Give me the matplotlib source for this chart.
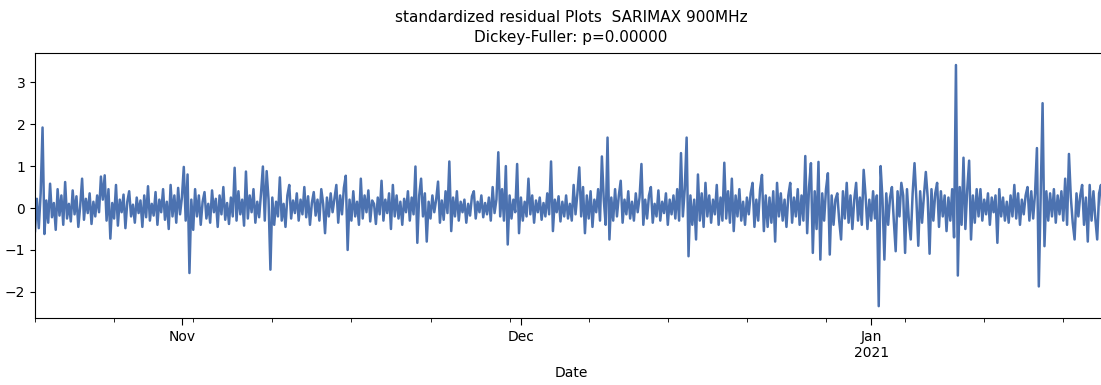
import matplotlib
matplotlib.use("Agg")
import matplotlib.pyplot as plt
import matplotlib.dates as mdates
from matplotlib.ticker import FuncFormatter
import numpy as np
import pandas as pd

# 4-hourly standardized residuals (6 values per day)
start = "2020-10-19 00:00"
step = "4h"
resid = [
    -0.55, 0.22, -0.48, 0.35, 1.92, -0.62,
    0.18, -0.35, 0.58, -0.22, 0.12, -0.52,
    0.45, -0.18, 0.3, -0.4, 0.62, -0.25,
    0.1, -0.32, 0.42, -0.15, 0.28, -0.45,
    0.05, 0.7, -0.28, 0.22, -0.12, 0.35,
    -0.38, 0.15, -0.2, 0.3, -0.1, 0.75,
    0.2, 0.78, -0.3, 0.45, -0.73, 0.12,
    -0.25, 0.55, -0.42, 0.2, -0.1, 0.32,
    -0.48, 0.15, 0.4, -0.2, 0.08, -0.35,
    0.25, -0.12, 0.18, -0.45, 0.3, -0.22,
    0.52, -0.3, 0.1, -0.18, 0.38, -0.4,
    0.2, -0.1, 0.45, -0.28, 0.15, -0.5,
    0.55, -0.2, 0.3, -0.35, 0.48, -0.15,
    0.25, 0.98, -0.3, 0.8, -1.55, 0.2,
    -0.52, 0.45, -0.2, 0.3, -0.4, 0.15,
    0.38, -0.25, 0.1, -0.35, 0.42, -0.1,
    0.22, -0.45, 0.3, -0.15, 0.5, -0.28,
    0.12, -0.38, 0.25, -0.2, 0.96, -0.3,
    0.4, -0.15, 0.2, -0.42, 0.87, -0.25,
    0.3, -0.1, 0.45, -0.35, 0.15, -0.22,
    0.35, 0.99, -0.3, 0.88, 0.2, -1.47,
    0.25, -0.4, 0.15, -0.2, 0.73, -0.3,
    0.1, -0.45, 0.3, 0.55, -0.25, 0.18,
    -0.12, 0.35, -0.3, 0.2, -0.15, 0.5,
    -0.22, 0.28, -0.4, 0.12, 0.38, -0.18,
    0.2, -0.3, 0.45, 0.1, -0.6, 0.25,
    -0.2, 0.35, -0.1, 0.22, 0.55, -0.35,
    0.3, -0.15, 0.48, 0.77, -1.0, 0.2,
    -0.3, 0.4, -0.2, 0.15, -0.4, 0.7,
    -0.25, 0.3, -0.1, 0.42, -0.32, 0.18,
    0.1, -0.38, 0.25, -0.15, 0.65, -0.3,
    0.2, -0.12, 0.35, -0.5, 0.55, -0.2,
    0.3, -0.25, 0.15, -0.4, 0.22, -0.1,
    0.4, -0.3, 0.25, -0.15, 0.99, -0.83,
    0.3, 0.7, -0.2, 0.35, -0.8, 0.15,
    -0.25, 0.3, -0.1, 0.2, 0.63, -0.35,
    0.18, -0.28, 0.4, -0.12, 1.11, -0.55,
    0.25, -0.2, 0.4, -0.3, 0.15, -0.1,
    0.2, -0.35, 0.1, -0.18, 0.28, 0.4,
    -0.25, 0.15, -0.1, 0.3, -0.22, 0.12,
    -0.15, 0.25, -0.3, 0.5, -0.12, 0.2,
    1.33, -0.2, 0.45, -0.3, 1.0, -0.87,
    0.3, -0.25, 0.2, -0.1, 1.05, -0.6,
    0.25, -0.3, 0.15, -0.2, 0.7, -0.15,
    0.3, -0.35, 0.18, -0.1, 0.25, -0.28,
    0.12, -0.2, 0.35, -0.15, 1.11, -0.55,
    0.2, -0.1, 0.28, -0.32, 0.15, -0.2,
    0.3, -0.25, 0.1, -0.3, 0.55, -0.15,
    0.35, 0.97, -0.2, 0.5, -0.6, 0.3,
    -0.25, 0.4, -0.45, 0.2, -0.1, 0.45,
    -0.3, 1.23, 0.2, -0.4, 1.68, -0.75,
    0.25, -0.3, 0.45, -0.2, 0.3, 0.65,
    -0.35, 0.2, -0.15, 0.4, -0.25, 0.15,
    -0.3, 0.35, -0.1, 0.25, 1.05, -0.4,
    0.2, -0.25, 0.3, 0.5, -0.35, 0.1,
    -0.2, 0.42, -0.3, 0.15, -0.12, 0.35,
    -0.4, 0.2, -0.15, 0.3, -0.25, 0.45,
    -0.3, 1.31, -0.2, 0.45, 1.68, -1.15,
    0.3, -0.4, 0.2, -0.75, 0.8, -0.3,
    0.35, -0.45, 0.6, -0.2, 0.3, -0.35,
    0.2, -0.15, 0.55, -0.4, 0.25, -0.3,
    1.08, -0.25, 0.4, -0.35, 0.7, -0.55,
    0.3, -0.2, 0.45, -0.3, 0.15, -0.4,
    0.25, -0.15, 0.35, 0.6, -0.45, 0.2,
    -0.3, 0.45, 0.79, -0.55, 0.3, -0.45,
    0.25, -0.35, 0.4, -0.8, 0.6, -0.2,
    0.35, -0.3, 0.2, -0.45, 0.3, 0.6,
    -0.35, 0.25, -0.2, 0.45, -0.4, 0.3,
    -0.3, 1.24, -0.6, 0.5, 1.07, -1.07,
    0.4, -0.5, 1.1, -1.23, 0.35, -0.3,
    0.45, 0.83, -1.11, 0.3, -0.4, 0.2,
    0.35, -0.3, -0.75, 0.4, -0.25, 0.6,
    -0.35, 0.3, -0.5, 0.2, 0.6, -0.3,
    0.25, -0.4, 0.91, 0.3, -0.5, 0.2,
    -0.3, 0.4, -0.25, 0.3, -2.34, 1.0,
    0.2, -1.23, 0.35, -0.4, 0.25, 0.5,
    -0.3, -1.03, 0.4, -0.2, 0.6, 0.3,
    -1.07, 0.45, -0.3, -0.75, 0.35, 1.07,
    0.2, -0.9, 0.4, -0.35, 0.3, 0.86,
    0.25, -1.09, 0.45, -0.3, 0.35, 0.6,
    -0.45, 0.4, -0.2, 0.3, -0.55, 0.25,
    -0.3, 0.45, -0.7, 3.41, -1.61, 0.5,
    -0.4, 1.2, -0.5, 0.45, 1.13, -0.75,
    0.3, -0.35, 0.45, -0.2, 0.45, -0.3,
    0.2, -0.15, 0.35, -0.4, 0.25, -0.1,
    0.3, -0.83, 0.45, -0.2, 0.25, -0.3,
    0.15, -0.35, 0.3, -0.2, 0.55, -0.25,
    0.35, -0.4, 0.2, -0.15, 0.3, 0.5,
    -0.3, 0.4, -0.25, 0.35, 1.43, -1.87,
    0.3, 2.5, -0.91, 0.4, -0.3, 0.35,
    -0.2, 0.45, -0.35, 0.3, -0.15, 0.4,
    -0.3, 0.7, -0.4, 1.29, 0.25, -0.35,
    -0.75, 0.35, -0.2, 0.3, 0.55, -0.4,
    0.25, -0.8, 0.55, -0.3, 0.4, -0.25,
    -0.75, 0.35, 0.55, -0.3, 0.3, -0.2,
]

dates = pd.date_range(start, periods=len(resid), freq=step)

fig = plt.figure(figsize=(11.01, 3.85), dpi=100)
ax = fig.add_axes([0.0318, 0.1732, 0.9733, 0.6884])
ax.plot(dates, resid, color='#4c72b0', lw=1.8)

ax.set_xlim(dates[0], dates[-1])
ax.set_ylim(-2.63, 3.69)
ax.set_yticks([-2, -1, 0, 1, 2, 3])

def month_fmt(x, pos=None):
    d = mdates.num2date(x)
    if d.month == 1:
        return d.strftime('%b\n%Y')
    return d.strftime('%b')

ax.xaxis.set_major_locator(mdates.MonthLocator())
ax.xaxis.set_major_formatter(FuncFormatter(month_fmt))
ax.xaxis.set_minor_locator(mdates.WeekdayLocator(byweekday=mdates.MO))
ax.tick_params(axis='x', which='major', length=5, labelsize=10)
ax.tick_params(axis='x', which='minor', length=3)
ax.tick_params(axis='y', labelsize=10)
for lbl in ax.get_xticklabels():
    lbl.set_ha('center')

ax.set_xlabel('Date', fontsize=10)
ax.set_title('standardized residual Plots  SARIMAX 900MHz\nDickey-Fuller: p=0.00000',
             fontsize=11, linespacing=1.45, pad=8)

plt.savefig('out.png', dpi=100)
